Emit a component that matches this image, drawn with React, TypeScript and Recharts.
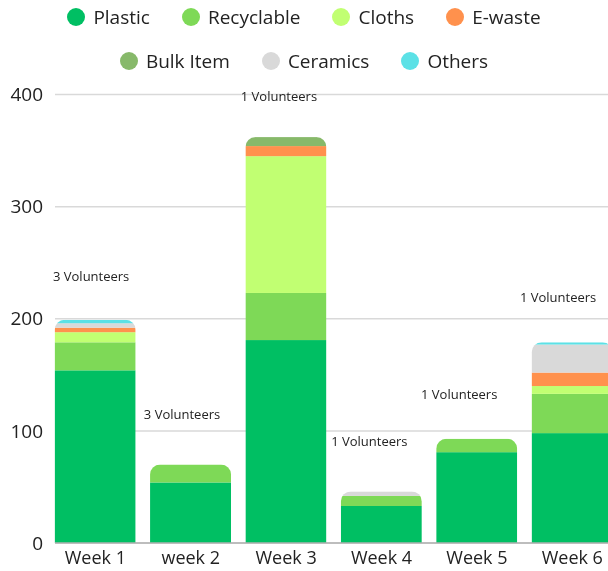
import React from "react";
import {
  BarChart,
  Bar,
  XAxis,
  YAxis,
  CartesianGrid,
  Legend,
  LabelList,
} from "recharts";

// weekly clean-up totals
const WEEKS = ["Week 1", "week 2", "Week 3", "Week 4", "Week 5", "Week 6"];
const PLASTIC = [154, 54, 181, 33, 81, 98];
const RECYCLABLE = [25, 16, 42, 9, 12, 35];
const CLOTHS = [9, 0, 122, 0, 0, 7];
const EWASTE = [4, 0, 9, 0, 0, 12];
const BULK = [0, 0, 8, 0, 0, 0];
const CERAMICS = [4, 0, 0, 4, 0, 25];
const OTHERS = [3, 0, 0, 0, 0, 2];
const VOLUNTEERS = [3, 3, 1, 1, 1, 1];
const Y_TICKS = [0, 100, 200, 300, 400];

const SERIES = [
  { key: "plastic", name: "Plastic", color: "#00BF63", values: PLASTIC },
  { key: "recyclable", name: "Recyclable", color: "#7ED957", values: RECYCLABLE },
  { key: "cloths", name: "Cloths", color: "#C1FF72", values: CLOTHS },
  { key: "ewaste", name: "E-waste", color: "#FF914D", values: EWASTE },
  { key: "bulk", name: "Bulk Item", color: "#87B96A", values: BULK },
  { key: "ceramics", name: "Ceramics", color: "#D9D9D9", values: CERAMICS },
  { key: "others", name: "Others", color: "#5CE1E6", values: OTHERS },
];
const KEYS = SERIES.map((s) => s.key);

const data = WEEKS.map((week, i) => {
  const row: Record<string, any> = { week, volunteers: `${VOLUNTEERS[i]} Volunteers` };
  SERIES.forEach((s) => (row[s.key] = s.values[i]));
  return row;
});

// the text boxes in the original were placed by hand, so nudge each one
const LABEL_NUDGE = [
  [-4, -44],
  [-8.5, -51],
  [-7, -41],
  [-12, -50],
  [-17.5, -45],
  [-14, -45],
];

const FONT = "'Open Sans', sans-serif";
const TEXT = "#222";
const RADIUS = 10;

// each segment is clipped by a rounded rect covering the whole stack,
// so only the top of the stack gets round corners
const makeShape = (key: string, idx: number) => (props: any) => {
  const { x, y, width, height, payload, index, fill } = props;
  const v = payload[key];
  if (!v || !height || height <= 0) return <g />;
  const ppu = height / v;
  const below = KEYS.slice(0, idx).reduce((s, k) => s + payload[k], 0);
  const total = KEYS.reduce((s, k) => s + payload[k], 0);
  const base = y + height + below * ppu;
  const top = base - total * ppu;
  const id = `clip-${idx}-${index}`;
  return (
    <g>
      <defs>
        <clipPath id={id}>
          <rect x={x} y={top} width={width} height={base - top + 20} rx={RADIUS} ry={RADIUS} />
        </clipPath>
      </defs>
      <rect x={x} y={y} width={width} height={height} fill={fill} clipPath={`url(#${id})`} />
    </g>
  );
};

const VolunteerLabel = (props: any) => {
  const vb = props.viewBox || props;
  const x = vb.x ?? props.x;
  const y = vb.y ?? props.y;
  const w = vb.width ?? props.width;
  const [dx, dy] = LABEL_NUDGE[props.index] || [0, -45];
  return (
    <text
      x={x + w / 2 + dx}
      y={y + dy}
      textAnchor="middle"
      dominantBaseline="central"
      fontFamily={FONT}
      fontSize={13}
      fill={TEXT}
    >
      {props.value}
    </text>
  );
};

const renderLegend = () => {
  const rows = [SERIES.slice(0, 4), SERIES.slice(4)];
  return (
    <div style={{ width: 608, height: 94, fontFamily: FONT, fontSize: 19, color: TEXT }}>
      {rows.map((row, i) => (
        <div
          key={i}
          style={{
            display: "flex",
            justifyContent: "center",
            alignItems: "center",
            height: 34,
            marginTop: i === 0 ? 0 : 10,
          }}
        >
          {row.map((s) => (
            <span key={s.key} style={{ display: "flex", alignItems: "center", margin: "0 16px" }}>
              <span
                style={{
                  width: 18,
                  height: 18,
                  borderRadius: 9,
                  background: s.color,
                  marginRight: 8,
                  display: "inline-block",
                }}
              />
              {s.name}
            </span>
          ))}
        </div>
      ))}
    </div>
  );
};

export default function App() {
  return (
    <div style={{ position: "fixed", left: 0, top: 0 }}>
      <BarChart
        width={620}
        height={571}
        data={data}
        margin={{ top: 0.5, right: 0, left: 0, bottom: 0 }}
      >
        <Legend
          verticalAlign="top"
          content={renderLegend}
          wrapperStyle={{ left: 0, top: 0, width: 608 }}
        />
        <CartesianGrid vertical={false} stroke="#d9d9d9" strokeWidth={1.5} />
        <XAxis
          dataKey="week"
          tickLine={false}
          axisLine={{ stroke: "#b0b0b0", strokeWidth: 1.5 }}
          height={28}
          interval={0}
          padding={{ left: -7.35, right: 0 }}
          tick={{ fontSize: 18, fill: TEXT, fontFamily: FONT }}
        />
        <YAxis
          domain={[0, 400]}
          ticks={Y_TICKS}
          axisLine={false}
          tickLine={false}
          width={55}
          tickMargin={6}
          tick={{ fontSize: 19, fill: TEXT, fontFamily: FONT }}
        />
        {SERIES.map((s, i) => (
          <Bar
            key={s.key}
            dataKey={s.key}
            name={s.name}
            stackId="a"
            fill={s.color}
            barSize={81}
            isAnimationActive={false}
            shape={makeShape(s.key, i)}
          >
            {i === SERIES.length - 1 && (
              <LabelList dataKey="volunteers" content={VolunteerLabel} />
            )}
          </Bar>
        ))}
      </BarChart>
    </div>
  );
}
